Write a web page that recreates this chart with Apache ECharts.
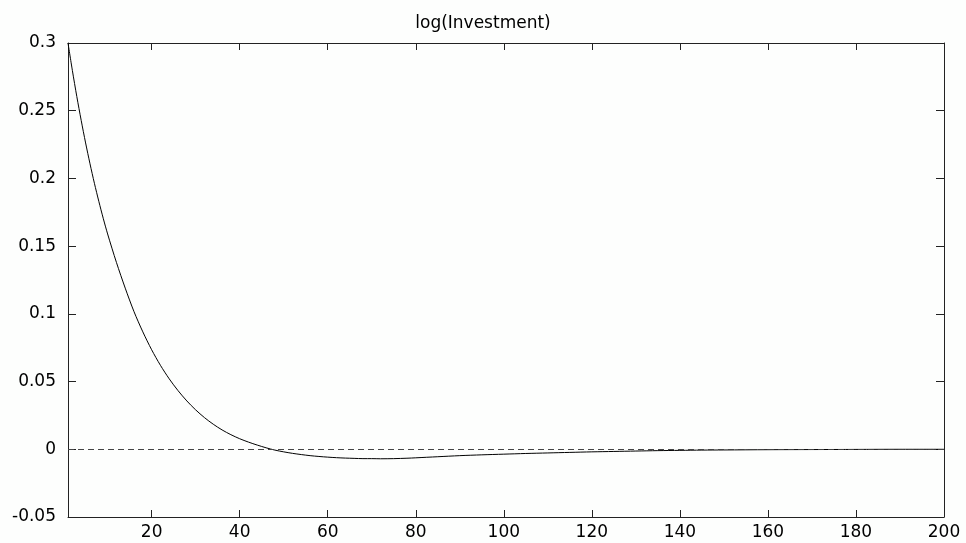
<!DOCTYPE html>
<html>
<head>
<meta charset="utf-8">
<title>log(Investment)</title>
<script src="https://cdn.jsdelivr.net/npm/echarts@6.0.0/dist/echarts.min.js"></script>
<style>
    html, body { margin: 0; padding: 0; background: #fdfefd; }
    #chart { width: 966px; height: 543px; }
</style>
</head>
<body>
<div id="chart"></div>
<script>
// periods (x) and response values (y)
var periods = [1, 2, 3, 4, 5, 6, 7, 8, 9, 10, 12, 14, 16, 18, 20, 22, 24, 26, 28, 30,
    32, 34, 36, 38, 40, 42, 44, 46, 48, 50, 52, 54, 56, 58, 60, 62, 64, 66, 68, 70,
    72, 75, 78, 80, 85, 90, 95, 100, 105, 110, 115, 120, 125, 130, 135, 140, 145,
    150, 160, 170, 180, 190, 200];
var values = [0.300, 0.2796, 0.2605, 0.2428, 0.2262, 0.2108, 0.1964, 0.1831, 0.1706, 0.1590,
    0.1380, 0.1190, 0.1016, 0.0867, 0.0735, 0.0620, 0.0520, 0.0433, 0.0357, 0.0291,
    0.0234, 0.0185, 0.0143, 0.0108, 0.0078, 0.0053, 0.0031, 0.0011, -0.0006, -0.0019,
    -0.0030, -0.0039, -0.0047, -0.0053, -0.0058, -0.0062, -0.0065, -0.0067, -0.0069, -0.0069,
    -0.0070, -0.0069, -0.0066, -0.0063, -0.0055, -0.0047, -0.0041, -0.0036, -0.0031, -0.0027,
    -0.0023, -0.0019, -0.0016, -0.0013, -0.0010, -0.0008, -0.0006, -0.0005, -0.0003, -0.0002,
    -0.0001, 0.0000, 0.0000];

// tick labels
var xTicks = [20, 40, 60, 80, 100, 120, 140, 160, 180, 200];
var yMin = -0.05, yMax = 0.3, yStep = 0.05;
var xMin = 1, xMax = 200;

var titleText = 'log(Investment)';

var seriesData = [];
for (var i = 0; i < periods.length; i++) {
    seriesData.push([periods[i], values[i]]);
}

var fontName = 'DejaVu Sans';
var axisColor = '#222';

var myChart = echarts.init(document.getElementById('chart'));

var option = {
    backgroundColor: '#fdfefd',
    animation: false,
    title: {
        text: titleText,
        left: 'center',
        top: 10,
        textStyle: {
            fontFamily: fontName,
            fontSize: 17,
            fontWeight: 'normal',
            color: '#000'
        }
    },
    grid: {
        left: 68,
        right: 22,
        top: 43,
        bottom: 26
    },
    xAxis: [
        {
            type: 'value',
            min: xMin,
            max: xMax,
            position: 'bottom',
            axisLine: {show: true, onZero: false, lineStyle: {color: axisColor, width: 1}},
            axisTick: {show: true, inside: true, length: 7, customValues: xTicks, lineStyle: {color: axisColor}},
            axisLabel: {
                customValues: xTicks,
                margin: 7,
                fontFamily: fontName,
                fontSize: 17,
                color: '#000'
            },
            splitLine: {show: false}
        },
        {
            type: 'value',
            min: xMin,
            max: xMax,
            position: 'top',
            axisLine: {show: true, onZero: false, lineStyle: {color: axisColor, width: 1}},
            axisTick: {show: true, inside: true, length: 7, customValues: xTicks, lineStyle: {color: axisColor}},
            axisLabel: {show: false},
            splitLine: {show: false}
        }
    ],
    yAxis: [
        {
            type: 'value',
            min: yMin,
            max: yMax,
            interval: yStep,
            position: 'left',
            axisLine: {show: true, onZero: false, lineStyle: {color: axisColor, width: 1}},
            axisTick: {show: true, inside: true, length: 8, lineStyle: {color: axisColor}},
            axisLabel: {
                margin: 12,
                fontFamily: fontName,
                fontSize: 17,
                color: '#000'
            },
            splitLine: {show: false}
        },
        {
            type: 'value',
            min: yMin,
            max: yMax,
            interval: yStep,
            position: 'right',
            axisLine: {show: true, onZero: false, lineStyle: {color: axisColor, width: 1}},
            axisTick: {show: true, inside: true, length: 8, lineStyle: {color: axisColor}},
            axisLabel: {show: false},
            splitLine: {show: false}
        }
    ],
    series: [
        {
            name: titleText,
            type: 'line',
            xAxisIndex: 0,
            yAxisIndex: 0,
            data: seriesData,
            smooth: 0.3,
            showSymbol: false,
            lineStyle: {color: '#000', width: 1},
            markLine: {
                silent: true,
                symbol: ['none', 'none'],
                label: {show: false},
                lineStyle: {color: '#444', width: 1, type: [6, 4]},
                data: [{yAxis: 0}]
            }
        }
    ]
};

myChart.setOption(option);
</script>
</body>
</html>
